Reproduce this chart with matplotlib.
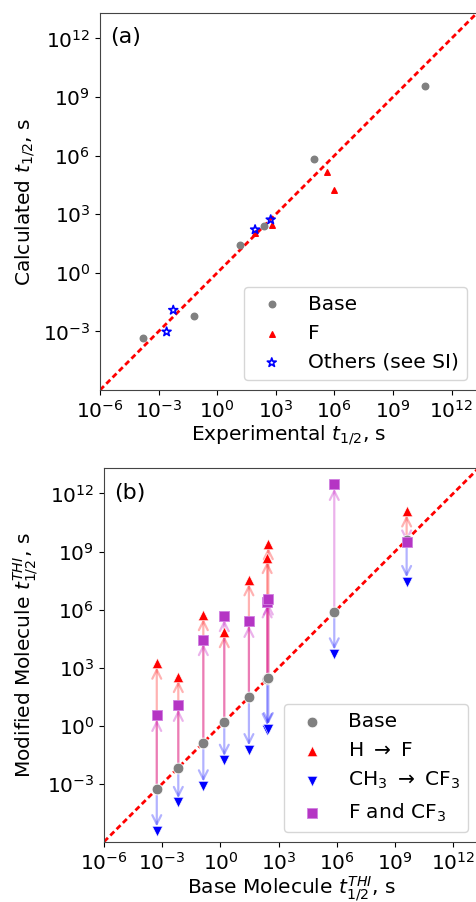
import numpy as np
import matplotlib
matplotlib.use("Agg")
import matplotlib.pyplot as plt

# ---- panel (a): experimental vs calculated half-life (log10 s) ----
base_exp = [-3.81, -1.17, 1.17, 2.41, 4.97, 10.66]
base_calc = [-3.33, -2.20, 1.44, 2.40, 5.85, 9.57]
f_exp = [1.95, 2.79, 5.64, 5.98]
f_calc = [2.02, 2.47, 5.17, 4.22]
oth_exp = [-2.59, -2.25, 1.94, 2.74]
oth_calc = [-3.02, -1.91, 2.21, 2.72]

# ---- panel (b): base molecule vs modified molecule THI half-life (log10 s) ----
base_thi = [-3.28, -2.17, -0.88, 0.20, 1.47, 2.41, 2.47, 5.87, 9.60]
h_to_f = [3.23, 2.54, 5.74, 4.86, 7.54, 8.69, 9.41, np.nan, 11.10]
ch3_to_cf3 = [-5.43, -3.97, -3.11, -1.79, -1.24, -0.20, -0.15, 3.71, 7.45]
f_and_cf3 = [0.53, 1.05, 4.45, 5.69, 5.39, 6.40, 6.55, 12.47, 9.50]

ticks = [1e-6, 1e-3, 1e0, 1e3, 1e6, 1e9, 1e12]
lims = (1e-6, 2e13)
fs = 14.5

plt.rcParams['font.family'] = 'DejaVu Sans'
plt.rcParams['font.size'] = fs

fig = plt.figure(figsize=(4.76, 9.02), dpi=100)
ax1 = fig.add_axes([0.2101, 0.5676, 0.792, 0.418])
ax2 = fig.add_axes([0.2185, 0.0668, 0.7866, 0.414])


def p10(v):
    return 10.0 ** np.asarray(v, dtype=float)


def setup(ax, xlabel, ylabel, tag):
    ax.set_xscale('log')
    ax.set_yscale('log')
    ax.set_xlim(lims)
    ax.set_ylim(lims)
    ax.set_xticks(ticks)
    ax.set_yticks(ticks[1:])
    ax.minorticks_off()
    ax.tick_params(labelsize=fs)
    ax.set_xlabel(xlabel, fontsize=fs, labelpad=1)
    ax.set_ylabel(ylabel, fontsize=fs)
    # y = x reference line
    ax.plot(lims, lims, color='red', ls='--', lw=2, dashes=(2.0, 1.2), zorder=2)
    ax.text(0.027, 0.935, tag, transform=ax.transAxes, fontsize=16, va='center', ha='left')
    for s in ax.spines.values():
        s.set_color('#444444')


# panel (a)
setup(ax1, 'Experimental $t_{1/2}$, s', 'Calculated $t_{1/2}$, s', '(a)')
ax1.scatter(p10(base_exp), p10(base_calc), s=22, color='gray', label='Base', zorder=3)
ax1.scatter(p10(f_exp), p10(f_calc), s=16, marker='^', color='red', label='F', zorder=3)
ax1.scatter(p10(oth_exp), p10(oth_calc), s=45, marker='*', facecolor='none',
            edgecolor='blue', lw=1.2, label='Others (see SI)', zorder=4)
ax1.legend(loc='lower right', fontsize=fs)

# panel (b)
setup(ax2, 'Base Molecule $t_{1/2}^{THI}$, s', 'Modified Molecule $t_{1/2}^{THI}$, s', '(b)')

# arrows from each base molecule to its modified versions
arrow_sets = [(h_to_f, 'red'), (f_and_cf3, 'm'), (ch3_to_cf3, 'blue')]
for vals, c in arrow_sets:
    for xb, yv in zip(base_thi, vals):
        if np.isnan(yv):
            continue
        ax2.annotate('', xy=(10.0 ** xb, 10.0 ** yv),
                     xytext=(10.0 ** xb, 10.0 ** xb),
                     arrowprops=dict(arrowstyle='->', color=c, alpha=0.3, lw=1.6,
                                     mutation_scale=16, shrinkA=0, shrinkB=3),
                     zorder=1)

ax2.scatter(p10(base_thi), p10(base_thi), s=60, color='gray', edgecolor='white',
            lw=0.6, label='Base', zorder=3)
ax2.scatter(p10(base_thi), p10(h_to_f), s=55, marker='^', color='red',
            edgecolor='white', lw=0.4, label=r'H $\rightarrow$ F', zorder=3)
ax2.scatter(p10(base_thi), p10(ch3_to_cf3), s=55, marker='v', color='blue',
            edgecolor='white', lw=0.4, label=r'CH$_3$ $\rightarrow$ CF$_3$', zorder=3)
ax2.scatter(p10(base_thi), p10(f_and_cf3), s=55, marker='s', color='#b535c4',
            edgecolor='#d080e0', lw=0.6, label='F and CF$_3$', zorder=4)
ax2.legend(loc='lower right', fontsize=fs)

fig.savefig('out.png', dpi=100)
